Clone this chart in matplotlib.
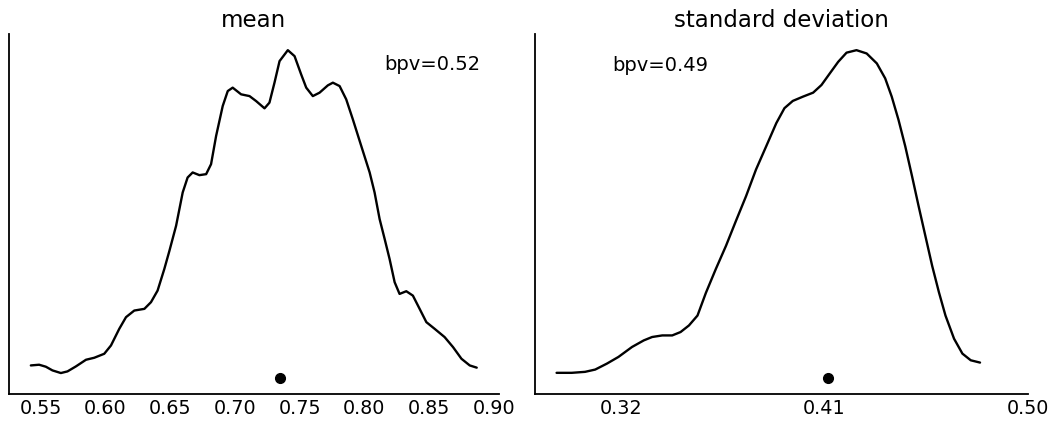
import numpy as np
import matplotlib
matplotlib.use("Agg")
import matplotlib.pyplot as plt

# kde of the posterior predictive mean
mean_x = [0.5424, 0.5488, 0.5540, 0.5591, 0.5656, 0.5707, 0.5772, 0.5850, 0.5914, 0.5991,
          0.6043, 0.6107, 0.6159, 0.6223, 0.6301, 0.6352, 0.6403, 0.6455, 0.6494, 0.6546,
          0.6597, 0.6635, 0.6674, 0.6726, 0.6778, 0.6816, 0.6855, 0.6906, 0.6945, 0.6983,
          0.7048, 0.7113, 0.7164, 0.7229, 0.7267, 0.7306, 0.7345, 0.7409, 0.7461, 0.7512,
          0.7551, 0.7602, 0.7654, 0.7718, 0.7757, 0.7809, 0.7860, 0.7911, 0.7976, 0.8041,
          0.8079, 0.8118, 0.8157, 0.8195, 0.8234, 0.8272, 0.8324, 0.8375, 0.8427, 0.8479,
          0.8543, 0.8620, 0.8685, 0.8750, 0.8814, 0.8868]
mean_dens = [0.208, 0.220, 0.186, 0.123, 0.078, 0.106, 0.191, 0.305, 0.339, 0.407,
             0.549, 0.833, 1.032, 1.145, 1.174, 1.288, 1.486, 1.855, 2.162, 2.593,
             3.162, 3.417, 3.503, 3.457, 3.474, 3.644, 4.126, 4.637, 4.893, 4.951,
             4.837, 4.807, 4.722, 4.598, 4.695, 5.036, 5.404, 5.591, 5.489, 5.177,
             4.951, 4.807, 4.865, 4.990, 5.036, 4.978, 4.751, 4.411, 3.956, 3.503,
             3.162, 2.707, 2.366, 2.025, 1.629, 1.429, 1.475, 1.400, 1.174, 0.947,
             0.833, 0.692, 0.521, 0.322, 0.208, 0.170]
mean_obs = 0.735
mean_bpv = 0.52

# kde of the posterior predictive standard deviation
std_x = [0.2914, 0.2981, 0.3040, 0.3085, 0.3137, 0.3188, 0.3248, 0.3300, 0.3337, 0.3382,
         0.3426, 0.3463, 0.3500, 0.3538, 0.3575, 0.3619, 0.3664, 0.3708, 0.3753, 0.3797,
         0.3842, 0.3887, 0.3923, 0.3960, 0.4005, 0.4050, 0.4087, 0.4124, 0.4161, 0.4198,
         0.4242, 0.4287, 0.4332, 0.4369, 0.4398, 0.4428, 0.4458, 0.4488, 0.4517, 0.4547,
         0.4577, 0.4607, 0.4636, 0.4674, 0.4711, 0.4748, 0.4789]
std_dens = [0.190, 0.190, 0.229, 0.320, 0.557, 0.822, 1.217, 1.478, 1.613, 1.676,
            1.676, 1.810, 2.071, 2.466, 3.364, 4.312, 5.233, 6.221, 7.209, 8.265,
            9.186, 10.111, 10.704, 10.992, 11.162, 11.320, 11.625, 12.087, 12.545, 12.909,
            13.008, 12.877, 12.482, 11.889, 11.162, 10.241, 9.186, 8.000, 6.814, 5.628,
            4.443, 3.391, 2.466, 1.545, 0.953, 0.688, 0.597]
std_obs = 0.4117
std_bpv = 0.49
std_ticks = [0.32, 0.41, 0.50]

fig = plt.figure(figsize=(10.55, 4.23), dpi=100)
ax1 = fig.add_axes([0.0081, 0.0686, 0.4649, 0.8515])
ax2 = fig.add_axes([0.5075, 0.0686, 0.4666, 0.8515])

def draw_tstat(ax, x, dens, obs, title):
    ax.plot(x, dens, color="k", lw=1.7, solid_joinstyle="round", solid_capstyle="round")
    ax.plot(obs, 0, "o", color="k", markeredgecolor="k", markersize=7)
    ax.set_title(title, fontsize=16.5, pad=5)
    ax.set_yticks([])
    ax.tick_params(axis="x", length=0, labelsize=13.8)
    for s in ["top", "right"]:
        ax.spines[s].set_visible(False)
    for s in ["left", "bottom"]:
        ax.spines[s].set_linewidth(1.3)

draw_tstat(ax1, mean_x, mean_dens, mean_obs, "mean")
ax1.set_xticks(np.round(np.arange(0.55, 0.901, 0.05), 2))
ax1.text(0.962, 0.915, f"bpv={mean_bpv:.2f}", transform=ax1.transAxes,
         ha="right", va="center", fontsize=14)

draw_tstat(ax2, std_x, std_dens, std_obs, "standard deviation")
ax2.set_xticks(std_ticks)
ax2.text(0.156, 0.913, f"bpv={std_bpv:.2f}", transform=ax2.transAxes,
         ha="left", va="center", fontsize=14)

fig.savefig("out.png", dpi=100)
